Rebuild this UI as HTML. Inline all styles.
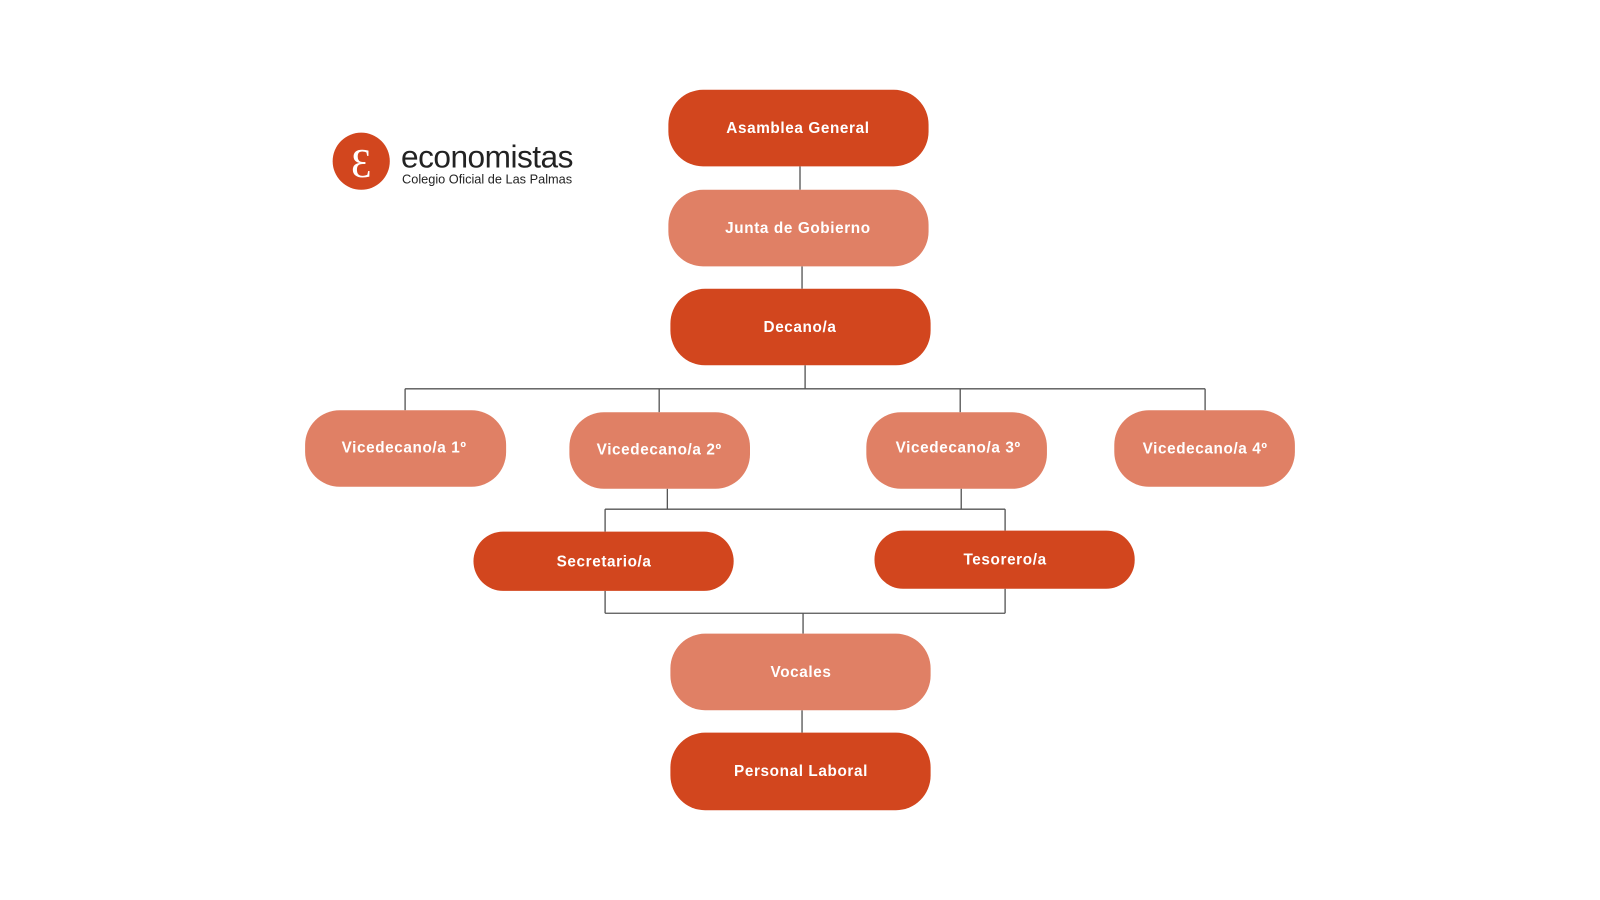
<!DOCTYPE html>
<html><head><meta charset="utf-8"><style>
html,body{margin:0;padding:0;background:#fff;}
svg{display:block;}
.t{font-family:"Liberation Sans",sans-serif;font-weight:bold;font-size:15px;fill:#fff;letter-spacing:0.6px;text-anchor:middle;dominant-baseline:central;}
</style></head><body>
<svg width="1600" height="900" viewBox="0 0 1568 882" preserveAspectRatio="none" xmlns="http://www.w3.org/2000/svg">
<g stroke="#555" stroke-width="1.3" fill="none">
<path d="M784 163V186M786 261V283M789 358V381M397 381H1181M397 381V402M646 381V404M941 381V404M1181 381V402"/>
<path d="M654 479V499M942 479V499M593 499H985M593 499V521M985 499V520"/>
<path d="M593 579V601M985 577V601M593 601H985M787 601V621M786 696V718"/>
</g>
<g>
<rect x="655" y="88" width="255" height="75" rx="34" fill="#d2461e"/>
<text class="t" x="782" y="126">Asamblea General</text>
<rect x="655" y="186" width="255" height="75" rx="34" fill="#e08065"/>
<text class="t" x="782" y="224">Junta de Gobierno</text>
<rect x="657" y="283" width="255" height="75" rx="34" fill="#d2461e"/>
<text class="t" x="784" y="321">Decano/a</text>
<rect x="299" y="402" width="197" height="75" rx="34" fill="#e08065"/>
<text class="t" x="396" y="439">Vicedecano/a 1º</text>
<rect x="558" y="404" width="177" height="75" rx="34" fill="#e08065"/>
<text class="t" x="646" y="441">Vicedecano/a 2º</text>
<rect x="849" y="404" width="177" height="75" rx="34" fill="#e08065"/>
<text class="t" x="939" y="439">Vicedecano/a 3º</text>
<rect x="1092" y="402" width="177" height="75" rx="34" fill="#e08065"/>
<text class="t" x="1181" y="440">Vicedecano/a 4º</text>
<rect x="464" y="521" width="255" height="58" rx="29" fill="#d2461e"/>
<text class="t" x="592" y="551">Secretario/a</text>
<rect x="857" y="520" width="255" height="57" rx="28" fill="#d2461e"/>
<text class="t" x="985" y="549">Tesorero/a</text>
<rect x="657" y="621" width="255" height="75" rx="34" fill="#e08065"/>
<text class="t" x="785" y="659">Vocales</text>
<rect x="657" y="718" width="255" height="76" rx="34" fill="#d2461e"/>
<text class="t" x="785" y="756">Personal Laboral</text>
</g>
<g>
<circle cx="354" cy="158" r="28" fill="#d2461e"/>
<text x="354" y="160" font-family="Liberation Serif,serif" font-size="40" fill="#fff" text-anchor="middle" dominant-baseline="central">Ɛ</text>
<text x="393" y="164" font-family="Liberation Sans,sans-serif" font-size="31" fill="#222" letter-spacing="-0.5">economistas</text>
<text x="394" y="180" font-family="Liberation Sans,sans-serif" font-size="12.5" fill="#222">Colegio Oficial de Las Palmas</text>
</g>
</svg>
</body></html>
